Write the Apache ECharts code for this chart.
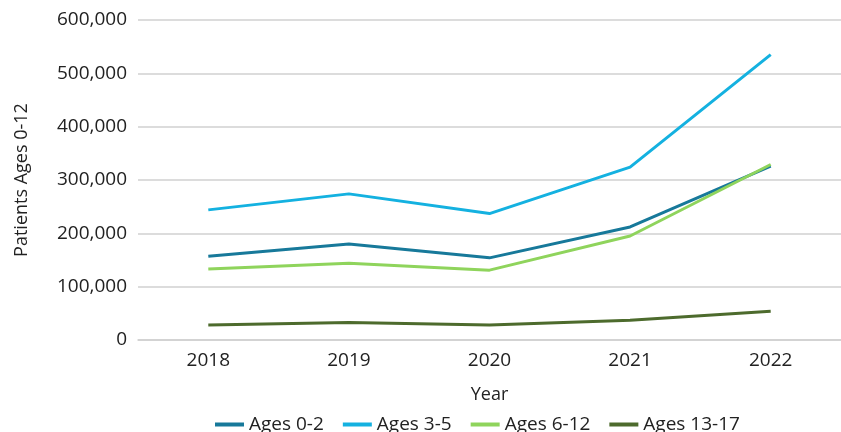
<!DOCTYPE html>
<html>
<head>
    <meta charset="utf-8">
    <title>Patients Ages 0-12</title>
    <script src="https://cdn.jsdelivr.net/npm/echarts@6/dist/echarts.min.js"></script>
    <style>
        html, body { margin: 0; padding: 0; background: #fff; }
        #chart { width: 841px; height: 432px; }
    </style>
</head>
<body>
<div id="chart"></div>
<script>
    // data
    var years = ['2018', '2019', '2020', '2021', '2022'];
    var ages0to2 = [157000, 180000, 154000, 212000, 326000];
    var ages3to5 = [244000, 274000, 237000, 324000, 535000];
    var ages6to12 = [133000, 144000, 131000, 195000, 329000];
    var ages13to17 = [28000, 33000, 28000, 37000, 54000];

    var myChart = echarts.init(document.getElementById('chart'));

    function lineSeries(name, data, color) {
        return {
            name: name,
            type: 'line',
            data: data,
            symbol: 'none',
            lineStyle: { width: 3, color: color },
            itemStyle: { color: color }
        };
    }

    var font = '"Open Sans", sans-serif';

    var option = {
        animation: false,
        textStyle: { fontFamily: font },
        color: ['#17799a', '#14b1e0', '#8fd45c', '#4d6b2d'],
        grid: { left: 138, top: 20, width: 711, bottom: 92, containLabel: false },
        legend: {
            top: 410,
            left: 210,
            icon: 'rect',
            itemWidth: 29,
            itemHeight: 4,
            itemGap: 19,
            textStyle: { fontSize: 19, color: '#222', fontFamily: font },
            data: ['Ages 0-2', 'Ages 3-5', 'Ages 6-12', 'Ages 13-17']
        },
        xAxis: {
            type: 'category',
            data: years,
            boundaryGap: true,
            name: 'Year',
            nameLocation: 'middle',
            nameGap: 46,
            nameTextStyle: { fontSize: 18, color: '#222' },
            axisLine: { lineStyle: { color: '#d0d0d0', width: 1.5 } },
            axisTick: { show: false },
            axisLabel: { fontSize: 19, color: '#222', margin: 11 }
        },
        yAxis: {
            type: 'value',
            min: 0,
            max: 600000,
            interval: 100000,
            name: 'Patients Ages 0-12',
            nameLocation: 'middle',
            nameGap: 107,
            nameTextStyle: { fontSize: 18, color: '#222' },
            axisLine: { show: false },
            axisTick: { show: false },
            splitLine: { lineStyle: { color: '#d0d0d0', width: 1.5 } },
            axisLabel: {
                fontSize: 19,
                color: '#222',
                margin: 11,
                formatter: function (v) { return v.toLocaleString('en-US'); }
            }
        },
        series: [
            lineSeries('Ages 0-2', ages0to2, '#17799a'),
            lineSeries('Ages 3-5', ages3to5, '#14b1e0'),
            lineSeries('Ages 6-12', ages6to12, '#8fd45c'),
            lineSeries('Ages 13-17', ages13to17, '#4d6b2d')
        ]
    };

    myChart.setOption(option);
</script>
</body>
</html>
